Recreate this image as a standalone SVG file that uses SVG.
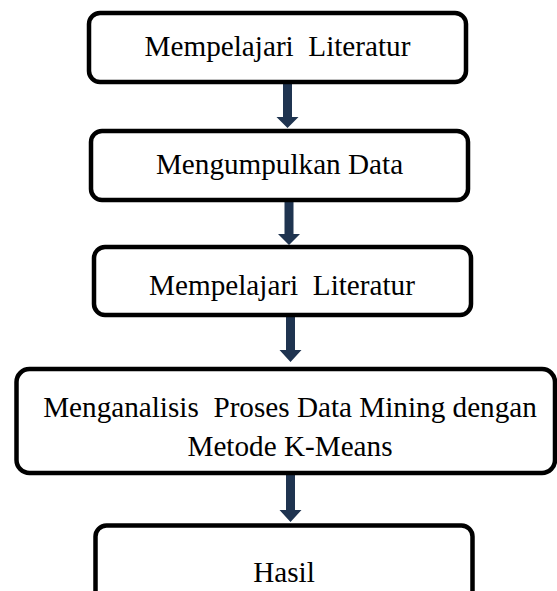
<svg xmlns="http://www.w3.org/2000/svg" width="557" height="591" viewBox="0 0 557 591">
<style>
.box{fill:#fff;stroke:#000;stroke-width:4.5}
.lbl{font-family:"Liberation Serif","Times New Roman",serif;font-size:29.2px;fill:#000;text-anchor:middle;white-space:pre}
.arr{fill:#1f3450}
</style>
<rect width="557" height="591" fill="#fff"/>
<g id="connectors">
<polygon class="arr" points="283,82 292,82 292,117 298.5,117 287.5,128 276.5,117 283,117"/>
<polygon class="arr" points="284.5,200 293.5,200 293.5,234 300,234 289,245 278,234 284.5,234"/>
<polygon class="arr" points="286,315 295,315 295,350 301.5,350 290.5,362 279.5,350 286,350"/>
<polygon class="arr" points="286,473 295,473 295,510 301.5,510 290.5,522 279.5,510 286,510"/>
</g>
<g id="n1">
<rect class="box" x="89" y="13" width="377" height="69" rx="11"/>
<text class="lbl" x="277.5" y="56" xml:space="preserve">Mempelajari  Literatur</text>
</g>
<g id="n2">
<rect class="box" x="91" y="131" width="377" height="69" rx="11"/>
<text class="lbl" x="279.5" y="174">Mengumpulkan Data</text>
</g>
<g id="n3">
<rect class="box" x="94" y="247" width="377" height="68" rx="11"/>
<text class="lbl" x="282" y="295" xml:space="preserve">Mempelajari  Literatur</text>
</g>
<g id="n4">
<rect class="box" x="16.5" y="369" width="538.5" height="104" rx="13"/>
<text class="lbl" x="290" y="417" xml:space="preserve">Menganalisis  Proses Data Mining dengan</text>
<text class="lbl" x="290" y="456">Metode K-Means</text>
</g>
<g id="n5">
<rect class="box" x="95.5" y="525.5" width="377" height="76" rx="11"/>
<text class="lbl" x="284" y="582">Hasil</text>
</g>
</svg>
